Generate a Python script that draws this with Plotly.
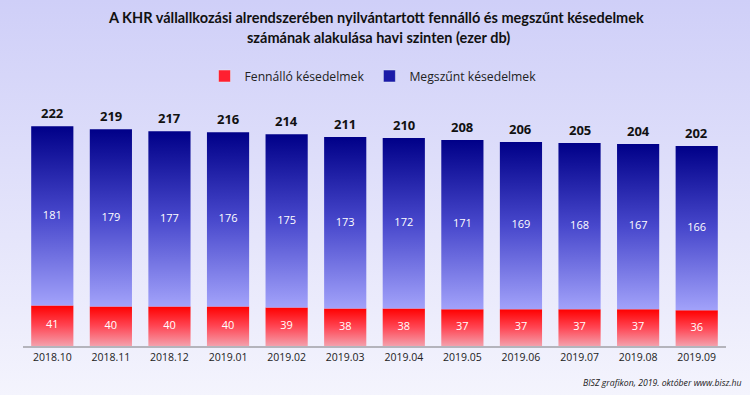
import base64
import plotly.graph_objects as go

categories = ["2018.10", "2018.11", "2018.12", "2019.01", "2019.02", "2019.03",
              "2019.04", "2019.05", "2019.06", "2019.07", "2019.08", "2019.09"]
fennallo = [41, 40, 40, 40, 39, 38, 38, 37, 37, 37, 37, 36]
megszunt = [181, 179, 177, 176, 175, 173, 172, 171, 169, 168, 167, 166]
totals = [222, 219, 217, 216, 214, 211, 210, 208, 206, 205, 204, 202]

W, H = 750, 395
ML, MR, MT, MB = 23, 24, 100, 49
BAR_W = 0.72

fig = go.Figure()

red_scale = [[0, "#f4a0ac"], [0.5, "#ff4654"], [1, "#ff0000"]]
blue_scale = [[0, "#a2a2fa"], [0.5, "#4848cc"], [1, "#000088"]]

for i, (r, b) in enumerate(zip(fennallo, megszunt)):
    x0, x1 = i - BAR_W / 2, i + BAR_W / 2
    fig.add_trace(go.Scatter(
        x=[x0, x1, x1, x0, x0], y=[0, 0, r, r, 0], mode="none",
        fill="toself", fillcolor="#ff3040",
        fillgradient=dict(type="vertical", colorscale=red_scale, start=0, stop=r),
        name="Fennálló késedelmek", showlegend=False, hoverinfo="skip"))
    fig.add_trace(go.Scatter(
        x=[x0, x1, x1, x0, x0], y=[r, r, r + b, r + b, r], mode="none",
        fill="toself", fillcolor="#3030c0",
        fillgradient=dict(type="vertical", colorscale=blue_scale, start=r, stop=r + b),
        name="Megszűnt késedelmek", showlegend=False, hoverinfo="skip"))

idx = list(range(len(categories)))

# legend entries
fig.add_trace(go.Bar(x=[None], y=[None], name="Fennálló késedelmek",
                     marker=dict(color="#ff2030"), showlegend=True))
fig.add_trace(go.Bar(x=[None], y=[None], name="Megszűnt késedelmek",
                     marker=dict(color="#1a1aa8"), showlegend=True))

fig.add_trace(go.Scatter(
    x=idx, y=[v / 2 for v in fennallo], mode="text", text=[str(v) for v in fennallo],
    textfont=dict(color="white", size=11, family="Open Sans"), showlegend=False,
    hoverinfo="skip"))
fig.add_trace(go.Scatter(
    x=idx, y=[r + b / 2 for r, b in zip(fennallo, megszunt)], mode="text",
    text=[str(v) for v in megszunt],
    textfont=dict(color="white", size=11, family="Open Sans"), showlegend=False,
    hoverinfo="skip"))

pw = W - ML - MR
ph = H - MT - MB
svg = (f'<svg xmlns="http://www.w3.org/2000/svg" width="{W}" height="{H}" preserveAspectRatio="none">'
       '<defs><linearGradient id="g" x1="0" y1="0" x2="0" y2="1">'
       '<stop offset="0" stop-color="#cfcff8"/><stop offset="1" stop-color="#f4f4fd"/>'
       '</linearGradient></defs><rect width="100%" height="100%" fill="url(#g)"/></svg>')
src = "data:image/svg+xml;base64," + base64.b64encode(svg.encode()).decode()

annotations = [
    dict(text=f"<b>{v}</b>", x=i, y=v, xref="x", yref="y", yshift=13,
         xanchor="center", yanchor="middle", showarrow=False,
         font=dict(family="Open Sans", size=13, color="#111111"))
    for i, v in enumerate(totals)
]
annotations += [
    dict(text="<b>A KHR vállallkozási alrendszerében nyilvántartott fennálló és megszűnt késedelmek</b>",
         xref="paper", yref="paper", x=(376 - ML) / pw, y=(H - MB - 17) / ph,
         xanchor="center", yanchor="middle", showarrow=False,
         font=dict(family="Lato", size=14.5, color="#111111")),
    dict(text="<b>számának alakulása havi szinten (ezer db)</b>",
         xref="paper", yref="paper", x=(378 - ML) / pw, y=(H - MB - 37) / ph,
         xanchor="center", yanchor="middle", showarrow=False,
         font=dict(family="Lato", size=14.5, color="#111111")),
    dict(text="<i>BISZ grafikon, 2019. október www.bisz.hu</i>",
         xref="paper", yref="paper", x=1 + 17 / pw, xanchor="right",
         y=-37 / ph, yanchor="middle", showarrow=False,
         font=dict(family="Open Sans", size=8.7, color="#222222")),
]

fig.update_layout(
    width=W, height=H,
    margin=dict(l=ML, r=MR, t=MT, b=MB, autoexpand=False),
    paper_bgcolor="#e2e2f9", plot_bgcolor="rgba(0,0,0,0)",
    images=[dict(source=src, xref="paper", yref="paper",
                 x=-ML / pw, y=1 + MT / ph, sizex=W / pw, sizey=H / ph,
                 xanchor="left", yanchor="top", sizing="stretch", layer="below")],
    legend=dict(orientation="h", x=(373 - ML) / pw, xanchor="center", y=(H - MB - 76) / ph,
                yanchor="middle", font=dict(family="Open Sans", size=12.2, color="#222222"),
                bgcolor="rgba(0,0,0,0)", traceorder="normal"),
    xaxis=dict(range=[-0.5, len(categories) - 0.5], tickvals=idx, ticktext=categories,
               showgrid=False, zeroline=False, showline=True, linecolor="#b4b4bc",
               linewidth=2, ticks="", tickfont=dict(family="Open Sans", size=10.5, color="#222222")),
    yaxis=dict(range=[0, ph / 0.99], visible=False, showgrid=False, zeroline=False),
    annotations=annotations,
)

fig.write_html("out.html", config={"displayModeBar": False},
               post_script="document.body.style.margin='0';document.body.style.overflow='hidden';")
